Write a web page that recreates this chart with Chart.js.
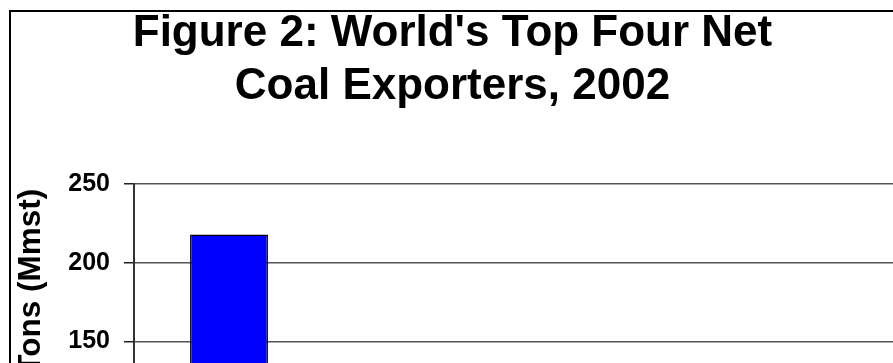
<!DOCTYPE html>
<html>
<head>
<meta charset="utf-8">
<script src="https://cdn.jsdelivr.net/npm/chart.js@4/dist/chart.umd.min.js"></script>
<style>
  html, body { margin: 0; padding: 0; background: #fff; overflow: hidden; width: 893px; height: 363px; }
  #frame { position: absolute; left: 9px; top: 10px; width: 900px; height: 660px; border: 2px solid #000; box-sizing: border-box; }
  #c { position: absolute; left: 11px; top: 11px; }
</style>
</head>
<body>
<div id="frame"></div>
<canvas id="c" width="885" height="640"></canvas>
<script>
const categories = ["Australia", "China", "Indonesia", "South Africa"];
const exportsMmst = [218, 86, 80, 76];
const yTicks = [0, 50, 100, 150, 200, 250];
const titleLines = ["Figure 2: World's Top Four Net", "Coal Exporters, 2002"];
const yAxisTitle = "Million Short Tons (Mmst)";

Chart.defaults.color = '#000';
Chart.defaults.font.family = "'Liberation Sans', Arial, sans-serif";

new Chart(document.getElementById('c'), {
  type: 'bar',
  data: {
    labels: categories,
    datasets: [{
      data: exportsMmst,
      backgroundColor: '#0000FF',
      borderColor: '#000',
      borderWidth: 1.5,
      categoryPercentage: 1.0,
      barPercentage: 0.41
    }]
  },
  options: {
    responsive: false,
    animation: false,
    devicePixelRatio: 1,
    layout: { padding: { left: 0, right: 2, top: 0, bottom: 23 } },
    plugins: {
      legend: { display: false },
      tooltip: { enabled: false },
      title: {
        display: true,
        text: titleLines[0],
        color: '#000',
        font: { size: 44, weight: 'bold', lineHeight: 1 },
        padding: { top: 0.5, bottom: 9.5 }
      },
      subtitle: {
        display: true,
        text: titleLines[1],
        color: '#000',
        font: { size: 44, weight: 'bold', lineHeight: 1 },
        padding: { top: 0, bottom: 75 }
      }
    },
    scales: {
      x: {
        grid: { display: false },
        border: { display: true, color: '#333', width: 2 },
        ticks: { font: { size: 25, weight: 'bold' }, color: '#000', padding: 8 },
        afterFit: (s) => { s.height = 50; }
      },
      y: {
        min: 0,
        max: 250,
        afterBuildTicks: (s) => { s.ticks = yTicks.map(v => ({ value: v })); },
        afterFit: (s) => { s.width = 123; },
        grid: {
          color: '#555',
          lineWidth: 1.5,
          drawTicks: true,
          tickLength: 10,
          tickColor: '#222',
          tickWidth: 1.5
        },
        border: { display: true, color: '#333', width: 2 },
        ticks: { font: { size: 25, weight: 'bold' }, color: '#000', padding: 14 },
        title: {
          display: true,
          text: yAxisTitle,
          color: '#000',
          font: { size: 31.5, weight: 'bold', lineHeight: 1.2 },
          padding: { top: 1, bottom: 0 }
        }
      }
    }
  }
});
</script>
</body>
</html>
